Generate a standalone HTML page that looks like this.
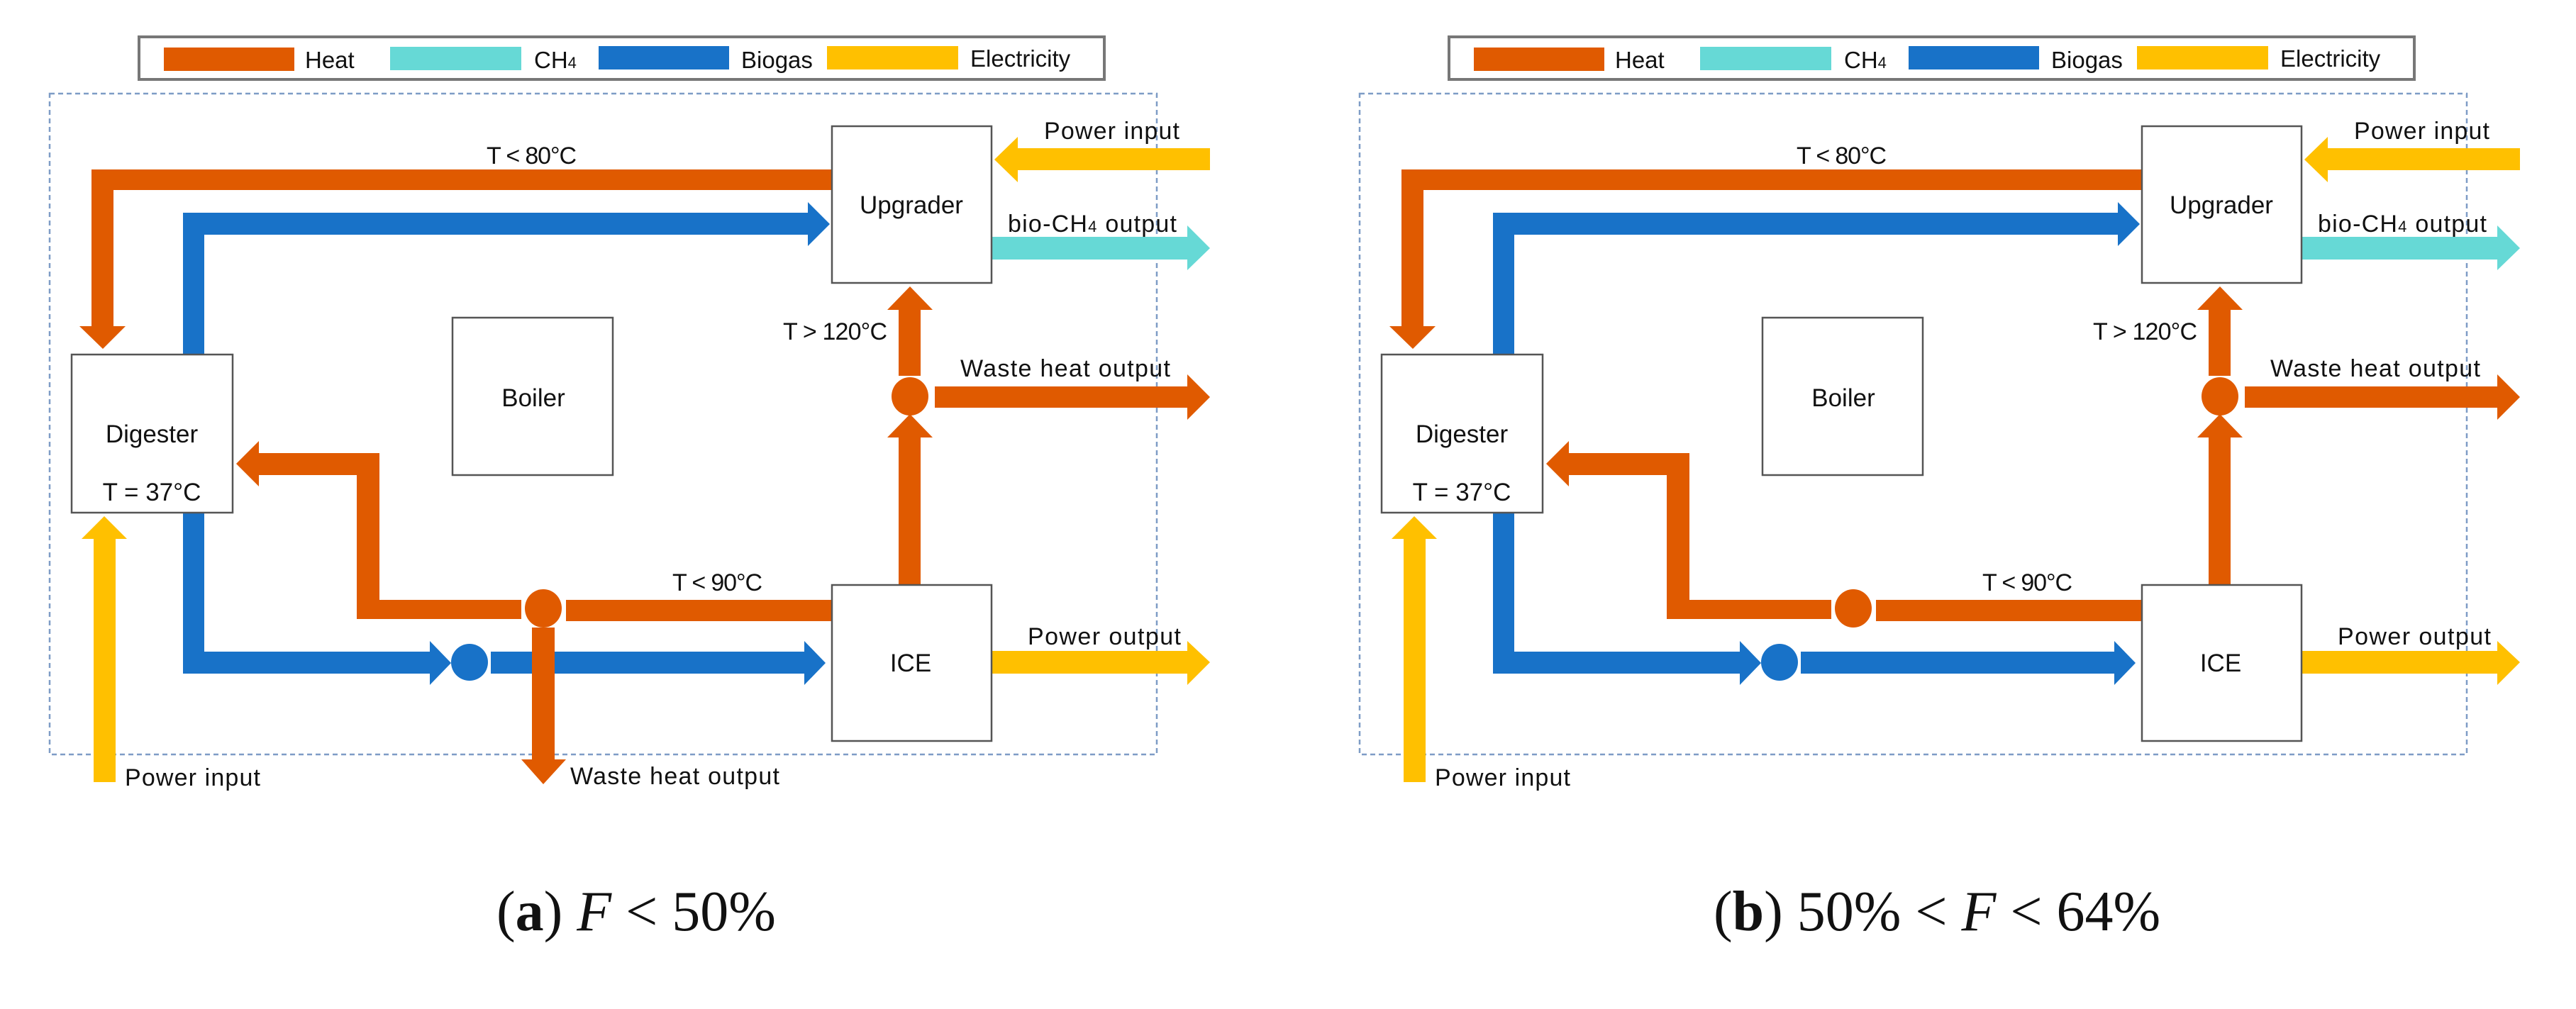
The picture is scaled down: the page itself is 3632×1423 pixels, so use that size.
<!DOCTYPE html>
<html><head><meta charset="utf-8"><style>
html,body{margin:0;padding:0;background:#fff;}
svg{display:block;}
text{font-family:"Liberation Sans",sans-serif;fill:#111;}
</style></head><body>
<svg width="3632" height="1423" viewBox="0 0 3632 1423" xmlns="http://www.w3.org/2000/svg">
<defs>
<g id="common">
  <rect x="196" y="52" width="1361" height="60" fill="#fff" stroke="#777" stroke-width="4"/>
  <rect x="231" y="67" width="184" height="33" fill="#E05A00"/>
  <text x="430" y="96" font-size="33">Heat</text>
  <rect x="550" y="66" width="185" height="33" fill="#66D9D6"/>
  <text x="753" y="96" font-size="33">CH<tspan font-size="22">4</tspan></text>
  <rect x="844" y="65" width="184" height="33" fill="#1872C8"/>
  <text x="1045" y="96" font-size="33">Biogas</text>
  <rect x="1166" y="65" width="185" height="33" fill="#FFC000"/>
  <text x="1368" y="94" font-size="33">Electricity</text>
  <rect x="70" y="132" width="1561" height="932" fill="none" stroke="#7E9CC6" stroke-width="2.5" stroke-dasharray="7,5"/>
  <polygon fill="#E05A00" points="1172,239 129,239 129,460 112,460 145,492 177,460 160,460 160,268 1172,268"/>
  <polygon fill="#1872C8" points="258,500 258,300 1139,300 1139,285 1170,316 1139,347 1139,331 288,331 288,500"/>
  <polygon fill="#1872C8" points="258,722 258,950 606,950 606,966 636,935 606,904 606,919 288,919 288,722"/>
  <ellipse cx="662" cy="934" rx="26" ry="26" fill="#1872C8"/>
  <polygon fill="#1872C8" points="692,919 1134,919 1134,904 1164,935 1134,966 1134,950 692,950"/>
  <polygon fill="#E05A00" points="333,654 365,622 365,639 535,639 535,846 735,846 735,873 503,873 503,670 365,670 365,686"/>
  <ellipse cx="766" cy="858" rx="26" ry="27" fill="#E05A00"/>
  <rect x="798" y="846" width="374" height="30" fill="#E05A00"/>
  <rect x="1267" y="616" width="31" height="209" fill="#E05A00"/>
  <polygon fill="#E05A00" points="1251,617 1283,584 1315,617"/>
  <ellipse cx="1283" cy="559" rx="26" ry="27" fill="#E05A00"/>
  <rect x="1267" y="435" width="31" height="95" fill="#E05A00"/>
  <polygon fill="#E05A00" points="1251,437 1283,404 1315,437"/>
  <polygon fill="#E05A00" points="1318,545 1674,545 1674,528 1706,560 1674,592 1674,575 1318,575"/>
  <polygon fill="#FFC000" points="1706,209 1435,209 1435,193 1402,225 1435,257 1435,240 1706,240"/>
  <polygon fill="#66D9D6" points="1398,334 1674,334 1674,318 1706,350 1674,381 1674,366 1398,366"/>
  <polygon fill="#FFC000" points="1398,918 1674,918 1674,904 1706,934 1674,966 1674,950 1398,950"/>
  <polygon fill="#FFC000" points="132,1103 132,760 115,760 147,728 179,760 163,760 163,1103"/>
  <rect x="1173" y="178" width="225" height="221" fill="#fff" stroke="#555" stroke-width="2.5"/>
  <rect x="638" y="448" width="226" height="222" fill="#fff" stroke="#555" stroke-width="2.5"/>
  <rect x="101" y="500" width="227" height="223" fill="#fff" stroke="#555" stroke-width="2.5"/>
  <rect x="1173" y="825" width="225" height="220" fill="#fff" stroke="#555" stroke-width="2.5"/>
  <text x="1285" y="301" font-size="35" text-anchor="middle">Upgrader</text>
  <text x="752" y="573" font-size="35" text-anchor="middle">Boiler</text>
  <text x="214" y="624" font-size="35" text-anchor="middle">Digester</text>
  <text x="214" y="706" font-size="35" text-anchor="middle">T = 37°C</text>
  <text x="1284" y="947" font-size="35" text-anchor="middle">ICE</text>
  <text x="686" y="231" font-size="34" textLength="127">T &lt; 80°C</text>
  <text x="1472" y="196" font-size="34" textLength="191">Power input</text>
  <text x="1421" y="327" font-size="34" textLength="238">bio-CH<tspan font-size="22">4</tspan> output</text>
  <text x="1104" y="479" font-size="34" textLength="147">T &gt; 120°C</text>
  <text x="1354" y="531" font-size="34" textLength="296">Waste heat output</text>
  <text x="948" y="833" font-size="34" textLength="127">T &lt; 90°C</text>
  <text x="1449" y="909" font-size="34" textLength="216">Power output</text>
  <text x="176" y="1108" font-size="34" textLength="191">Power input</text>
</g>
</defs>
<use href="#common"/>
<rect x="750" y="885" width="32" height="187" fill="#E05A00"/>
<polygon fill="#E05A00" points="735,1071 766,1106 798,1071"/>
<text x="804" y="1106" font-size="34" textLength="295">Waste heat output</text>
<use href="#common" transform="translate(1847,0)"/>
<text x="700" y="1312" font-size="80" style="font-family:'Liberation Serif',serif">(<tspan font-weight="bold">a</tspan>) <tspan font-style="italic">F</tspan> &lt; 50%</text>
<text x="2416" y="1312" font-size="80" style="font-family:'Liberation Serif',serif">(<tspan font-weight="bold">b</tspan>) 50% &lt; <tspan font-style="italic">F</tspan> &lt; 64%</text>
</svg>
</body></html>
